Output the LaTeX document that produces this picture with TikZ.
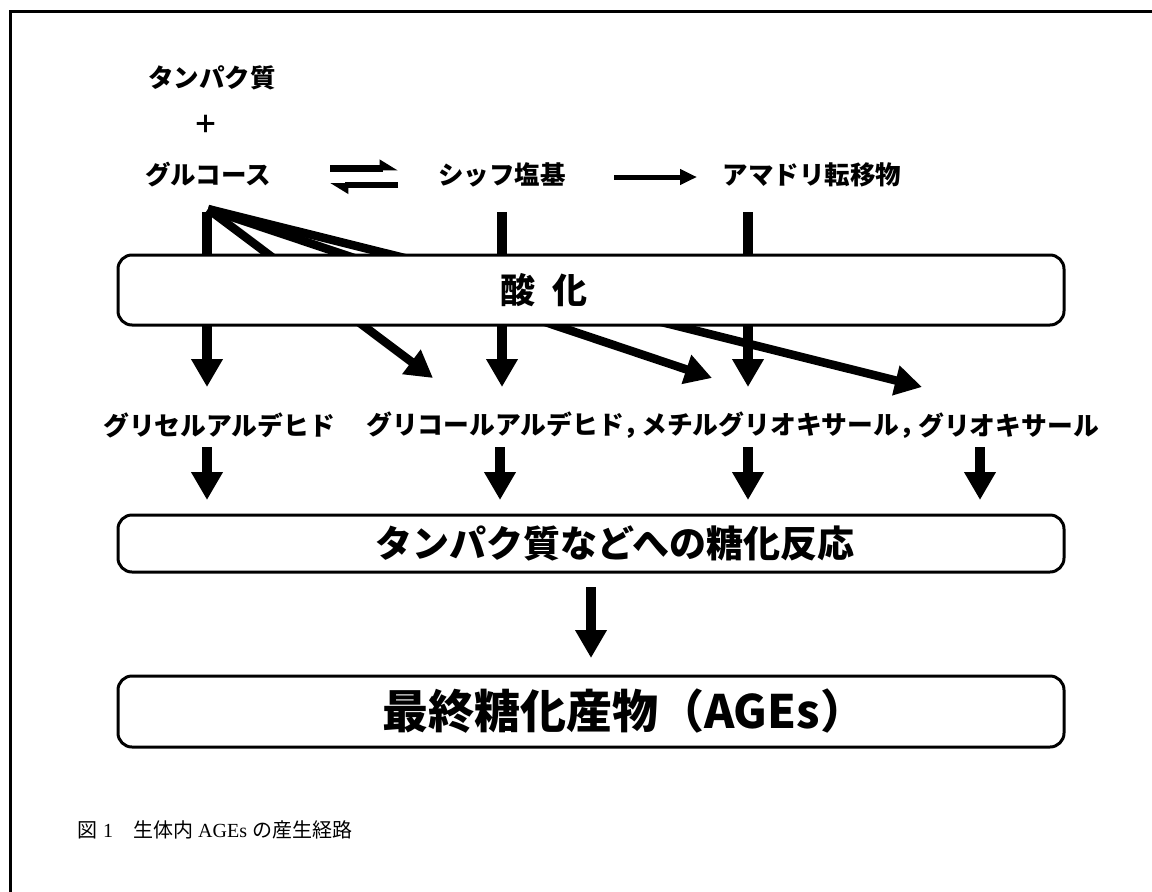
\documentclass[tikz,border=0pt]{standalone}
\usepackage{fontspec}
\newfontfamily\cjk{Noto Sans CJK JP}
\newfontfamily\lserif{Liberation Serif}
\usetikzlibrary{arrows.meta}
\begin{document}
\begin{tikzpicture}[x=1pt,y=-1pt,
  lbl/.style={font=\cjk\bfseries\fontsize{25.5}{30}\selectfont, inner sep=0},
  prod/.style={font=\cjk\bfseries\fontsize{25.8}{30}\selectfont, inner sep=0, anchor=west},
  fat/.style={line width=10pt, -{Triangle[width=30pt,length=28pt]}},
  diag/.style={line width=8.5pt, -{Triangle[width=29pt,length=27pt]}},
  eq/.style={line width=6.5pt, -{Triangle[harpoon,width=17pt,length=15pt]}},
  stagebox/.style={draw, line width=3pt, rounded corners=14pt, fill=white, minimum width=946pt, inner sep=0},
]
\useasboundingbox (0,0) rectangle (1152,892);
\draw[line width=2.5pt] (10.5,892) -- (10.5,11.5) -- (1152,11.5);

% top labels
\node[lbl] (prot) at (212,78) {タンパク質};
\node[font=\cjk\bfseries\fontsize{25}{30}\selectfont, inner sep=0] (plus) at (206,124) {＋};
\node[lbl] (glu) at (208,175) {グルコース};
\node[lbl] (schiff) at (502,175) {シッフ塩基};
\node[lbl] (amadori) at (812,175) {アマドリ転移物};

% equilibrium and forward arrows
\coordinate (e1) at (330,168.5); \coordinate (e2) at (398,168.5);
\coordinate (e3) at (398,185); \coordinate (e4) at (330,185);
\draw[eq] (e1) -- (e2);
\draw[eq] (e3) -- (e4);
\coordinate (f1) at (614,177); \coordinate (f2) at (697,177);
\draw[line width=5pt, -{Triangle[width=15pt,length=17pt]}] (f1) -- (f2);

% arrows through oxidation
\coordinate (fan) at (208,209);
\coordinate (gTop) at (207,212); \coordinate (gBot) at (207,387);
\coordinate (sTop) at (502,212); \coordinate (sBot) at (502,387);
\coordinate (aTop) at (748,212); \coordinate (aBot) at (748,387);
\coordinate (tA) at (433,378);
\coordinate (tB) at (712,378);
\coordinate (tC) at (922,387);
\draw[diag] (fan) -- (tC);
\draw[diag] (fan) -- (tB);
\draw[diag] (fan) -- (tA);
\draw[fat] (gTop) -- (gBot);
\draw[fat] (sTop) -- (sBot);
\draw[fat] (aTop) -- (aBot);

% oxidation box
\node[stagebox, minimum height=70pt] (ox) at (591,290) {};
\node[font=\cjk\bfseries\fontsize{35}{40}\selectfont, inner sep=0] (oxl) at (544,290) {酸\hspace{0.5em}化};

% products
\node[prod] (p1) at (103,425) {グリセルアルデヒド};
\node[prod] (p2) at (366,425) {グリコールアルデヒド，};
\node[prod] (p3) at (641,425) {メチルグリオキサール，};
\node[prod] (p4) at (918,425) {グリオキサール};

\coordinate (q1) at (207,447); \coordinate (q1b) at (207,500);
\coordinate (q2) at (500,447); \coordinate (q2b) at (500,500);
\coordinate (q3) at (748,447); \coordinate (q3b) at (748,500);
\coordinate (q4) at (980,447); \coordinate (q4b) at (980,500);
\draw[fat] (q1) -- (q1b);
\draw[fat] (q2) -- (q2b);
\draw[fat] (q3) -- (q3b);
\draw[fat] (q4) -- (q4b);

% glycation box
\node[stagebox, minimum height=57pt] (gly) at (591,543.5) {};
\node[font=\cjk\bfseries\fontsize{37}{42}\selectfont, inner sep=0] (glyl) at (615,543.5) {タンパク質などへの糖化反応};

% AGEs box
\node[stagebox, minimum height=71pt] (ages) at (591,711.5) {};
\node[font=\cjk\bfseries\fontsize{46}{52}\selectfont, inner sep=0] (agesl) at (624,711.5) {最終糖化産物（AGEs）};

\coordinate (m1) at (591,587);
\coordinate (m2) at (591,658);
\draw[fat] (m1) -- (m2);

% caption
\node[anchor=west, inner sep=0, font=\fontsize{20}{24}\selectfont] (cap) at (77,830) {\cjk 図\hspace{0.3em}\lserif 1\hspace{1em}\cjk 生体内\hspace{0.25em}\lserif AGEs\hspace{0.25em}\cjk の産生経路};
\end{tikzpicture}
\end{document}
